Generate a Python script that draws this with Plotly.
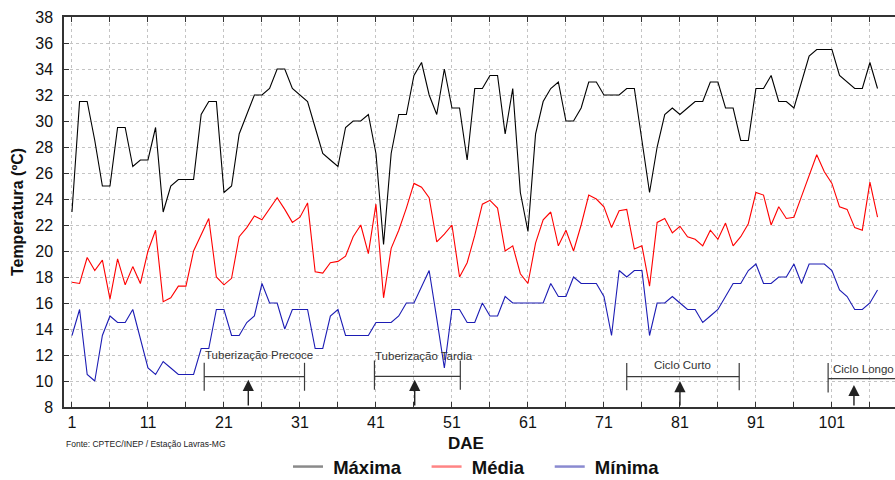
import plotly.graph_objects as go

days = list(range(1, 108))

maxima = [23, 31.5, 31.5, 28.5, 25, 25, 29.5, 29.5, 26.5, 27,
          27, 29.5, 23, 25, 25.5, 25.5, 25.5, 30.5, 31.5, 31.5,
          24.5, 25, 29, 30.5, 32, 32, 32.5, 34, 34, 32.5,
          32, 31.5, 29.5, 27.5, 27, 26.5, 29.5, 30, 30, 30.5,
          27.5, 20.5, 27.5, 30.5, 30.5, 33.5, 34.5, 32, 30.5, 34,
          31, 31, 27, 32.5, 32.5, 33.5, 33.5, 29, 32.5, 24.5,
          21.5, 29, 31.5, 32.5, 33, 30, 30, 31, 33, 33,
          32, 32, 32, 32.5, 32.5, 28.5, 24.5, 28, 30.5, 31,
          30.5, 31, 31.5, 31.5, 33, 33, 31, 31, 28.5, 28.5,
          32.5, 32.5, 33.5, 31.5, 31.5, 31, 33, 35, 35.5, 35.5,
          35.5, 33.5, 33, 32.5, 32.5, 34.5, 32.5]

media = [17.6, 17.5, 19.5, 18.5, 19.3, 16.3, 19.4, 17.4, 18.8, 17.5,
         20, 21.6, 16.1, 16.4, 17.3, 17.3, 20, 21.3, 22.5, 18,
         17.4, 17.9, 21.1, 21.8, 22.7, 22.4, 23.3, 24.1, 23.2, 22.2,
         22.6, 23.7, 18.4, 18.3, 19.1, 19.2, 19.6, 21.1, 22, 19.8,
         23.6, 16.4, 20.2, 21.6, 23.3, 25.2, 24.9, 24.1, 20.7, 21.3,
         22, 18, 19.1, 21.2, 23.6, 23.9, 23.3, 20, 20.4, 18.25,
         17.5, 20.6, 22.4, 23, 20.4, 21.6, 20, 22, 24.3, 24,
         23.4, 21.8, 23.1, 23.2, 20.15, 20.4, 17.3, 22.2, 22.5, 21.4,
         21.9, 21.1, 20.9, 20.4, 21.6, 20.9, 22.15, 20.4, 21.1, 22.1,
         24.5, 24.3, 22, 23.4, 22.5, 22.6, 24.2, 25.8, 27.4, 26.1,
         25.2, 23.4, 23.2, 21.8, 21.6, 25.3, 22.6]

minima = [13.5, 15.5, 10.5, 10, 13.5, 15, 14.5, 14.5, 15.5, 13.2,
          11, 10.5, 11.5, 11, 10.5, 10.5, 10.5, 12.5, 12.5, 15.5,
          15.5, 13.5, 13.5, 14.5, 15, 17.5, 16, 16, 14, 15.5,
          15.5, 15.5, 12.5, 12.5, 15, 15.5, 13.5, 13.5, 13.5, 13.5,
          14.5, 14.5, 14.5, 15, 16, 16, 17.2, 18.5, 14.8, 11,
          15.5, 15.5, 14.5, 14.5, 16, 15, 15, 16.5, 16, 16,
          16, 16, 16, 17.5, 16.5, 16.5, 18, 17.5, 17.5, 17.5,
          16.5, 13.5, 18.5, 18, 18.5, 18.5, 13.5, 16, 16, 16.5,
          16, 15.5, 15.5, 14.5, 15, 15.5, 16.5, 17.5, 17.5, 18.5,
          19, 17.5, 17.5, 18, 18, 19, 17.5, 19, 19, 19,
          18.5, 17, 16.5, 15.5, 15.5, 16, 17]

series_names = ["Máxima", "Média", "Mínima"]
series_colors = ["#000000", "#ff0000", "#1c1cb4"]
legend_colors = ["#8a8a8a", "#ff8484", "#8a8ad0"]

x_tickvals = list(range(1, 110, 5))
x_ticktext = [str(v) if (v - 1) % 10 == 0 else "" for v in x_tickvals]
y_tickvals = list(range(8, 39, 2))

# phase annotations
phase_labels = ["Tuberização Precoce", "Tuberização Tardia", "Ciclo Curto", "Ciclo Longo"]
phase_start = [18.4, 40.8, 74.0, 100.5]
phase_end = [31.6, 52.1, 88.8, 112.0]
phase_arrow = [24.2, 46.1, 81.0, 103.9]
phase_text_x = [18.2, 40.6, 81.4, 100.9]
phase_text_y = [12.0, 11.9, 11.25, 10.95]
phase_text_anchor = ["left", "left", "center", "left"]
phase_line_y = [10.33, 10.35, 10.33, 10.18]
phase_tick_lo = [9.25, 9.33, 9.28, 9.12]
phase_tick_hi = [11.4, 11.58, 11.38, 11.38]
phase_arrow_tip = [10.1, 10.1, 10.0, 9.7]

NB = "\u00a0"
fig = go.Figure()
for name, vals, col, lcol in zip(series_names, [maxima, media, minima], series_colors, legend_colors):
    fig.add_trace(go.Scatter(x=days, y=vals, mode="lines", name=name, showlegend=False,
                             line=dict(color=col, width=1.1)))
    # legend entry (lighter, thicker swatch as in the reference)
    fig.add_trace(go.Scatter(x=[None], y=[None], mode="lines",
                             name=NB + name + NB * 4, showlegend=True,
                             line=dict(color=lcol, width=2.5)))

shapes = []
annotations = []
for i in range(len(phase_labels)):
    shapes.append(dict(type="line", xref="x", yref="y", x0=phase_start[i], x1=phase_end[i],
                       y0=phase_line_y[i], y1=phase_line_y[i], line=dict(color="#3a3a3a", width=1.2)))
    shapes.append(dict(type="line", xref="x", yref="y", x0=phase_start[i], x1=phase_start[i],
                       y0=phase_tick_lo[i], y1=phase_tick_hi[i], line=dict(color="#3a3a3a", width=1.2)))
    if phase_end[i] < 109:
        shapes.append(dict(type="line", xref="x", yref="y", x0=phase_end[i], x1=phase_end[i],
                           y0=phase_tick_lo[i], y1=phase_tick_hi[i], line=dict(color="#3a3a3a", width=1.2)))
    annotations.append(dict(x=phase_arrow[i], y=phase_arrow_tip[i], ax=phase_arrow[i], ay=8,
                            xref="x", yref="y", axref="x", ayref="y", text="",
                            showarrow=True, arrowhead=2, arrowsize=1.6, arrowwidth=1.4,
                            arrowcolor="#222222"))
    annotations.append(dict(x=phase_text_x[i], y=phase_text_y[i], xref="x", yref="y",
                            text=phase_labels[i], showarrow=False, xanchor=phase_text_anchor[i],
                            yanchor="middle", font=dict(family="Liberation Sans", size=11.5, color="#333333")))

annotations.append(dict(x=(466 - 64) / (895 - 64), y=-(443 - 407) / (407 - 17), xref="paper", yref="paper",
                        text="<b>DAE</b>", showarrow=False, xanchor="center", yanchor="middle",
                        font=dict(family="Liberation Sans", size=17, color="#111111")))
annotations.append(dict(x=0, y=-0.095, xref="paper", yref="paper",
                        text="Fonte: CPTEC/INEP / Estação Lavras-MG", showarrow=False,
                        xanchor="left", yanchor="middle",
                        font=dict(family="Liberation Sans", size=8.5, color="#222222")))

fig.update_layout(
    width=895, height=480,
    margin=dict(l=64, r=0, t=17, b=73),
    paper_bgcolor="white", plot_bgcolor="white",
    font=dict(family="Liberation Sans", color="#111111"),
    shapes=shapes, annotations=annotations,
    showlegend=True,
    legend=dict(orientation="h", x=288 / 895, xanchor="left", xref="container",
                y=0.027, yref="container", yanchor="middle",
                font=dict(size=18.5, weight="bold", color="#111111"),
                bgcolor="rgba(0,0,0,0)"),
)
fig.update_xaxes(range=[-0.05, 109.3], tickmode="array", tickvals=x_tickvals, ticktext=x_ticktext,
                 ticks="inside", ticklen=5, tickcolor="#333333", showline=True, linecolor="#333333",
                 linewidth=1.5, mirror="ticks", showgrid=True, gridcolor="#c4c4c4", griddash="dot",
                 gridwidth=1, zeroline=False, tickfont=dict(size=16, color="#111111"))
fig.update_yaxes(range=[8, 38], tickmode="array", tickvals=y_tickvals,
                 ticks="inside", ticklen=5, tickcolor="#333333", showline=True, linecolor="#333333",
                 linewidth=1.5, mirror=False, showgrid=True, gridcolor="#c4c4c4", griddash="dot",
                 gridwidth=1, zeroline=False, tickfont=dict(size=16, color="#111111"),
                 ticklabelstandoff=6,
                 title=dict(text="<b>Temperatura (ºC)</b>", font=dict(size=16, color="#111111"), standoff=8))

fig.write_html("out.html")
